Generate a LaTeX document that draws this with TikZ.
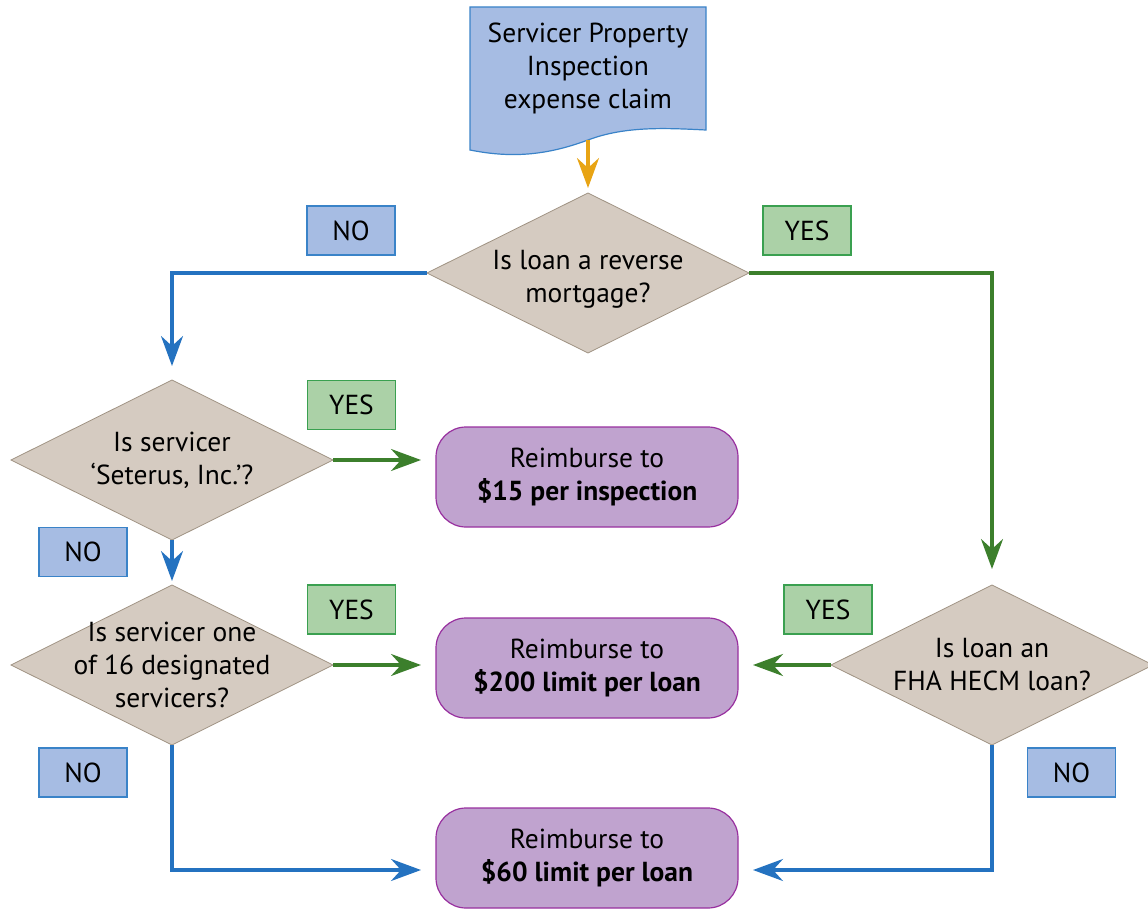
\documentclass[tikz,border=0pt]{standalone}
\usepackage{fontspec}
\setmainfont{PT Sans}
\usetikzlibrary{shapes.geometric,arrows.meta}
\definecolor{lnblue}{RGB}{36,114,192}
\definecolor{lngreen}{RGB}{60,127,44}
\definecolor{lnorange}{RGB}{232,164,20}
\definecolor{nofill}{RGB}{166,188,227}
\definecolor{nodraw}{RGB}{58,131,200}
\definecolor{yesfill}{RGB}{171,209,167}
\definecolor{yesdraw}{RGB}{58,160,80}
\definecolor{dmfill}{RGB}{213,203,193}
\definecolor{dmdraw}{RGB}{160,147,131}
\definecolor{pfill}{RGB}{192,163,207}
\definecolor{pdraw}{RGB}{152,48,159}
\begin{document}
\begin{tikzpicture}[x=1pt,y=-1pt,
  every node/.style={font=\fontsize{27.5}{33}\selectfont, align=center, inner sep=0pt, outer sep=0pt},
  dm/.style={shape=diamond, fill=dmfill, draw=dmdraw, line width=0.8pt, minimum width=322pt, minimum height=160pt},
  res/.style={rectangle, rounded corners=30pt, fill=pfill, draw=pdraw, line width=1.2pt, minimum width=302pt, minimum height=100pt},
  nolab/.style={rectangle, fill=nofill, draw=nodraw, line width=1.2pt, minimum width=88pt, minimum height=49pt},
  yeslab/.style={rectangle, fill=yesfill, draw=yesdraw, line width=1.2pt, minimum width=88pt, minimum height=49pt},
  tip/.style={-{Stealth[length=30pt,width=22pt,inset=10pt]}},
  bl/.style={tip, draw=lnblue, line width=3.2pt},
  gr/.style={tip, draw=lngreen, line width=3.2pt},
  orr/.style={tip, draw=lnorange, line width=3.2pt}]
\useasboundingbox (0,0) rectangle (1148,909);
% document shape
\path[fill=nofill, draw=nodraw, line width=1.2pt]
  (470,7) -- (706,7) -- (706,130)
  .. controls (665,128) and (625,126) .. (588,140)
  .. controls (545,156) and (510,158) .. (470,150) -- cycle;
\node (doc) at (588,68) {Servicer Property\\Inspection\\expense claim};
\coordinate (docb) at (588,140);
% diamonds
\node[dm] (d1) at (588,273) {};
\node at ([yshift=-6pt]d1.center) {Is loan a reverse\\mortgage?};
\node[dm] (d2) at (172,460) {};
\node at (d2.center) {Is servicer\\‘Seterus, Inc.’?};
\node[dm] (d3) at (172,665) {};
\node at (d3.center) {Is servicer one\\of 16 designated\\servicers?};
\node[dm] (d4) at (992,665) {};
\node at (d4.center) {Is loan an\\FHA HECM loan?};
% result boxes
\node[res] (r1) at (587,477) {Reimburse to\\\textbf{\$15 per inspection}};
\node[res] (r2) at (587,668) {Reimburse to\\\textbf{\$200 limit per loan}};
\node[res] (r3) at (587,858) {Reimburse to\\\textbf{\$60 limit per loan}};
% labels
\node[nolab] (no1) at (351,230.5) {NO};
\node[yeslab] (yes1) at (807,230.5) {YES};
\node[yeslab] (yes2) at (351.5,405) {YES};
\node[nolab] (no2) at (83,552) {NO};
\node[yeslab] (yes3) at (351.5,609.5) {YES};
\node[yeslab] (yes4) at (828,609.5) {YES};
\node[nolab] (no3) at (83,772.5) {NO};
\node[nolab] (no4) at (1071.5,772.5) {NO};
% connectors
\draw[orr, shorten >=5pt] (docb) -- (d1.north);
\draw[bl, shorten >=14pt] (d1.west) -| (d2.north);
\draw[gr, shorten >=16pt] (d1.east) -| (d4.north);
\draw[gr, shorten >=15pt] (d2.east) -- (d2.east -| r1.west);
\draw[bl, shorten >=4pt] (d2.south) -- (d3.north);
\draw[gr, shorten >=15pt] (d3.east) -- (d3.east -| r2.west);
\draw[gr, shorten >=15pt] (d4.west) -- (d4.west -| r2.east);
\coordinate (r3w) at ([yshift=-12pt]r3.west);
\coordinate (r3e) at ([yshift=-12pt]r3.east);
\draw[bl, shorten >=15pt] (d3.south) |- (r3w);
\draw[bl, shorten >=15pt] (d4.south) |- (r3e);
\end{tikzpicture}
\end{document}
